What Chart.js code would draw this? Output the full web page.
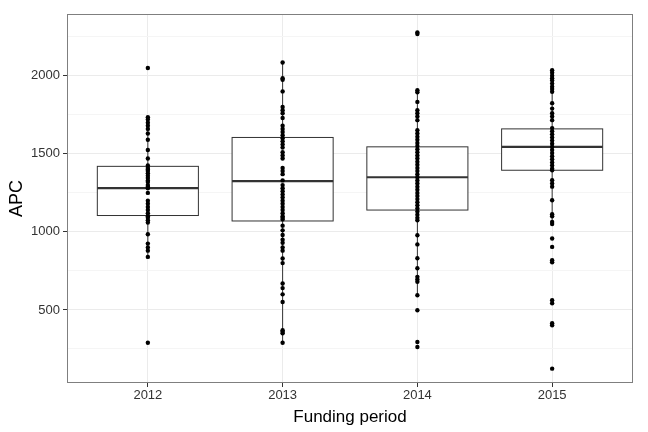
<!DOCTYPE html>
<html><head><meta charset="utf-8">
<script src="https://cdn.jsdelivr.net/npm/chart.js@4/dist/chart.umd.min.js"></script>
<style>html,body{margin:0;padding:0;background:#fff}#c{display:block}</style>
</head><body><canvas id="c" width="648" height="432"></canvas>
<script>
const categories = ["2012","2013","2014","2015"];
const q1 = [1105,1070,1140,1395];
const median = [1280,1325,1350,1545];
const q3 = [1420,1605,1545,1660];
const whiskerLow = [840,290,594,1050];
const whiskerHigh = [1735,2085,1908,2036];
const pts2012 = [2050,1735,1720,1700,1680,1660,1630,1590,1525,1470,1425,1410,1400,1390,1375,1360,1345,1330,1320,1300,1290,1280,1250,1200,1180,1160,1140,1120,1100,1090,1075,1060,985,925,900,880,840,290];
const pts2013 = [2085,1985,1975,1900,1800,1780,1760,1730,1680,1660,1640,1620,1600,1580,1560,1540,1510,1490,1470,1410,1390,1370,1330,1300,1280,1260,1240,1220,1200,1180,1160,1140,1120,1100,1090,1080,1040,1010,980,950,930,900,880,830,800,669,640,600,551,370,360,350,290];
const pts2014 = [2278,2268,1908,1895,1833,1780,1760,1740,1716,1652,1630,1610,1590,1570,1550,1530,1510,1490,1470,1450,1430,1410,1390,1370,1350,1330,1310,1290,1270,1250,1230,1210,1190,1170,1150,1130,1110,1090,1075,979,920,831,767,712,695,680,594,498,295,263];
const pts2015 = [2036,2020,2000,1985,1970,1950,1930,1915,1898,1825,1790,1760,1740,1716,1665,1645,1625,1605,1585,1565,1545,1525,1505,1485,1465,1445,1425,1405,1395,1331,1310,1290,1203,1113,1100,1064,1050,958,904,819,805,562,543,415,402,124];
const yTicks = [250,500,750,1000,1250,1500,1750,2000,2250];
const allPts = [pts2012,pts2013,pts2014,pts2015];
const scatterData = [];
allPts.forEach((arr,i)=>arr.forEach(v=>scatterData.push({x:i+1,y:v})));

const boxPlugin = {
  id:'box',
  beforeDatasetsDraw(chart){
    const {ctx, scales:{x,y}} = chart;
    ctx.save();
    for(let i=0;i<categories.length;i++){
      const cx = x.getPixelForValue(i+1);
      const l = x.getPixelForValue(i+1-0.375), r = x.getPixelForValue(i+1+0.375);
      ctx.strokeStyle='#333'; ctx.lineWidth=1;
      ctx.beginPath(); ctx.moveTo(cx,y.getPixelForValue(whiskerLow[i])); ctx.lineTo(cx,y.getPixelForValue(q1[i]));
      ctx.moveTo(cx,y.getPixelForValue(q3[i])); ctx.lineTo(cx,y.getPixelForValue(whiskerHigh[i])); ctx.stroke();
      const t=y.getPixelForValue(q3[i]), b=y.getPixelForValue(q1[i]);
      ctx.fillStyle='#fff'; ctx.fillRect(l,t,r-l,b-t);
      ctx.strokeRect(l,t,r-l,b-t);
      ctx.lineWidth=2.2; const m=y.getPixelForValue(median[i]);
      ctx.beginPath(); ctx.moveTo(l,m); ctx.lineTo(r,m); ctx.stroke();
    }
    ctx.restore();
  },
  afterDraw(chart){
    const {ctx, chartArea:a}=chart;
    ctx.save(); ctx.strokeStyle='#7f7f7f'; ctx.lineWidth=1;
    ctx.strokeRect(a.left+0.5,a.top+0.5,a.right-a.left-1,a.bottom-a.top-1); ctx.restore();
  }
};

new Chart(document.getElementById('c'),{
  type:'scatter',
  data:{datasets:[{data:scatterData,pointRadius:2.2,pointBackgroundColor:'#000',pointBorderWidth:0,pointHoverRadius:2.2}]},
  options:{
    responsive:false,animation:false,
    layout:{padding:{top:14,right:15,left:6,bottom:4}},
    plugins:{legend:{display:false},tooltip:{enabled:false}},
    scales:{
      x:{type:'linear',min:0.4,max:4.6,
        afterBuildTicks(s){s.ticks=[1,2,3,4].map(v=>({value:v}));},
        afterFit(s){s.height=45;},
        ticks:{callback:(v)=>categories[v-1]||'',color:'#333',font:{family:'Liberation Sans',size:13},padding:1},
        grid:{color:'#ebebeb',tickLength:4,tickColor:'#333'},border:{display:false},
        title:{display:true,text:'Funding period',color:'#000',font:{family:'Liberation Sans',size:17},padding:{top:-2,bottom:0}}},
      y:{min:32,max:2396,
        afterBuildTicks(s){s.ticks=yTicks.map(v=>({value:v}));},
        afterFit(s){s.width=61;},
        ticks:{callback:(v)=>v%500===0?String(v):'',color:'#333',font:{family:'Liberation Sans',size:13},padding:3},
        grid:{color:(c)=>c.tick&&c.tick.value%500===0?'#ebebeb':'#f5f5f5',tickLength:4,tickColor:(c)=>c.tick&&c.tick.value%500===0?'#333':'rgba(0,0,0,0)'},border:{display:false},
        title:{display:true,text:'APC',color:'#000',font:{family:'Liberation Sans',size:18},padding:{top:0,bottom:2}}}
    }
  },
  plugins:[boxPlugin]
});
</script></body></html>
